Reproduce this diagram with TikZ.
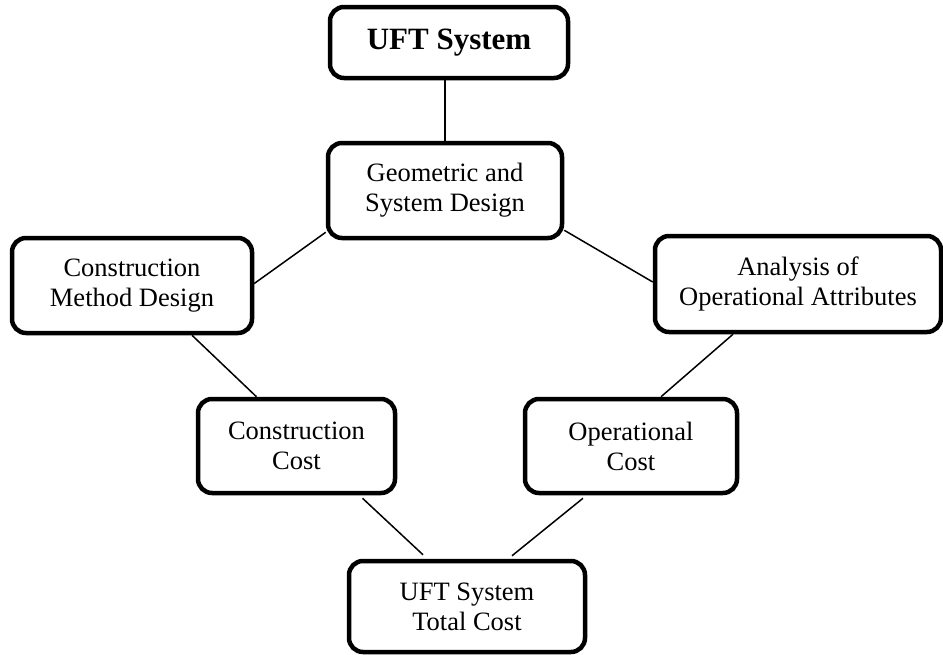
\documentclass[tikz,border=0pt]{standalone}
\usepackage{fontspec}
\setmainfont{Liberation Serif}
\usetikzlibrary{calc}
\begin{document}
\begin{tikzpicture}[x=1pt,y=-1pt,
  box/.style={draw, line width=4.5pt, rounded corners=14pt, align=center,
    inner sep=0pt, font=\fontsize{26.5}{30}\selectfont},
  link/.style={line width=1.5pt}]
\useasboundingbox (0,0) rectangle (943,654);
\node[box, minimum width=238pt, minimum height=71pt, font=\bfseries\fontsize{31}{36}\selectfont] (top) at (449,42.5) {UFT System};
\node[box, minimum width=234pt, minimum height=95pt] (geo) at (445,190.5) {Geometric and\\System Design};
\node[box, minimum width=240pt, minimum height=95pt] (cmd) at (132,285.5) {Construction\\Method Design};
\node[box, minimum width=286pt, minimum height=96pt] (ana) at (798,284) {Analysis of\\Operational Attributes};
\node[box, minimum width=197pt, minimum height=94pt] (cc) at (296.5,446) {Construction\\Cost};
\node[box, minimum width=212pt, minimum height=94pt] (oc) at (631,446) {Operational\\Cost};
\node[box, minimum width=236pt, minimum height=91pt] (tot) at (467,606.5) {UFT System\\Total Cost};
\draw[link] (geo.north |- top.south) -- (geo.north);
\draw[link] ($(geo.south west)+(0pt,8pt)$) -- ($(cmd.east)+(0pt,2pt)$);
\draw[link] ($(geo.south east)+(0pt,10pt)$) -- ($(ana.west)+(0pt,2pt)$);
\draw[link] ($(cmd.south)+(60pt,0pt)$) -- ($(cc.north)+(-40pt,0pt)$);
\draw[link] ($(ana.south)+(-65pt,0pt)$) -- ($(oc.north)+(30pt,0pt)$);
\draw[link] ($(cc.south)+(66pt,-3pt)$) -- ($(tot.north)+(-44pt,4pt)$);
\draw[link] ($(oc.south)+(-48pt,-3pt)$) -- ($(tot.north)+(45pt,3pt)$);
\end{tikzpicture}
\end{document}
